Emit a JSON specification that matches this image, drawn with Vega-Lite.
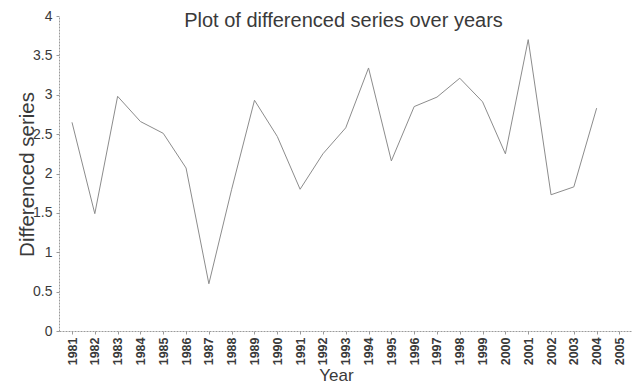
{
  "$schema": "https://vega.github.io/schema/vega-lite/v6.json",
  "width": 573,
  "height": 315,
  "autosize": "none",
  "padding": {"left": 59, "top": 16, "right": 5, "bottom": 52},
  "background": "white",
  "config": {
    "font": "Liberation Sans",
    "view": {"stroke": null}
  },
  "title": {
    "text": "Plot of differenced series over years",
    "fontSize": 20,
    "fontWeight": "normal",
    "color": "#3a3a3a",
    "anchor": "middle",
    "baseline": "alphabetic",
    "offset": 0,
    "dx": -2,
    "dy": 38
  },
  "data": {
    "values": [
      {"year": 1981, "value": 2.65},
      {"year": 1982, "value": 1.49},
      {"year": 1983, "value": 2.98},
      {"year": 1984, "value": 2.66},
      {"year": 1985, "value": 2.51},
      {"year": 1986, "value": 2.07},
      {"year": 1987, "value": 0.6},
      {"year": 1988, "value": 1.8},
      {"year": 1989, "value": 2.93},
      {"year": 1990, "value": 2.47},
      {"year": 1991, "value": 1.8},
      {"year": 1992, "value": 2.25},
      {"year": 1993, "value": 2.58},
      {"year": 1994, "value": 3.34},
      {"year": 1995, "value": 2.16},
      {"year": 1996, "value": 2.85},
      {"year": 1997, "value": 2.97},
      {"year": 1998, "value": 3.21},
      {"year": 1999, "value": 2.91},
      {"year": 2000, "value": 2.25},
      {"year": 2001, "value": 3.7},
      {"year": 2002, "value": 1.73},
      {"year": 2003, "value": 1.83},
      {"year": 2004, "value": 2.83}
    ]
  },
  "mark": {"type": "line", "color": "#8c8c8c", "strokeWidth": 1},
  "encoding": {
    "x": {
      "field": "year",
      "type": "quantitative",
      "scale": {"domain": [1980.43, 2005.55], "nice": false, "zero": false},
      "axis": {
        "title": "Year",
        "values": [1981, 1982, 1983, 1984, 1985, 1986, 1987, 1988, 1989, 1990, 1991, 1992, 1993, 1994, 1995, 1996, 1997, 1998, 1999, 2000, 2001, 2002, 2003, 2004, 2005],
        "format": "d",
        "labelAngle": -90,
        "labelFontSize": 12.5,
        "labelFontWeight": "bold",
        "labelColor": "#3a3a3a",
        "labelPadding": 3,
        "labelOverlap": false,
        "labelFlush": false,
        "grid": false,
        "domainColor": "#9a9a9a",
        "domainDash": [2, 1],
        "tickColor": "#9a9a9a",
        "tickSize": 3,
        "titleFontSize": 17,
        "titleFontWeight": "normal",
        "titleColor": "#3a3a3a",
        "titleX": 277,
        "titleY": 36,
        "titleBaseline": "top"
      }
    },
    "y": {
      "field": "value",
      "type": "quantitative",
      "scale": {"domain": [0, 4], "nice": false},
      "axis": {
        "title": "Differenced series",
        "values": [0, 0.5, 1, 1.5, 2, 2.5, 3, 3.5, 4],
        "format": "~g",
        "labelFontSize": 14,
        "labelColor": "#3a3a3a",
        "labelPadding": 4,
        "grid": false,
        "domainColor": "#9a9a9a",
        "domainDash": [2, 1],
        "tickColor": "#9a9a9a",
        "tickSize": 3,
        "titleFontSize": 20.5,
        "titleFontWeight": "normal",
        "titleColor": "#3a3a3a",
        "titleAngle": -90,
        "titleX": -32,
        "titleY": 158,
        "titleAlign": "center",
        "titleBaseline": "middle"
      }
    }
  }
}
